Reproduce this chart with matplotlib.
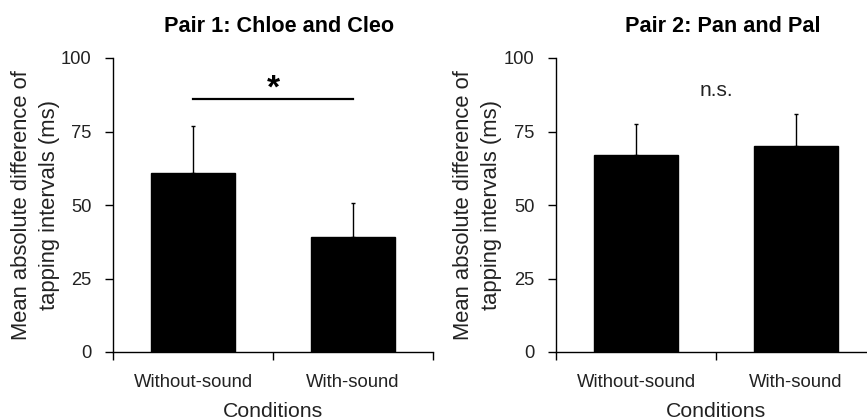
import matplotlib
matplotlib.use("Agg")
import matplotlib.pyplot as plt
import numpy as np

plt.rcParams['font.family'] = ['Liberation Sans', 'DejaVu Sans']

conditions = ["Without-sound", "With-sound"]
titles = ["Pair 1: Chloe and Cleo", "Pair 2: Pan and Pal"]
pair1_means = [61, 39]
pair1_err = [16, 11.6]
pair2_means = [67, 70]
pair2_err = [10.5, 11]
sig_labels = ["*", "n.s."]
yticks = [0, 25, 50, 75, 100]

fig = plt.figure(figsize=(8.67, 4.2), dpi=100)
axes = [fig.add_axes([113/867, 1-352/420, 320/867, 294/420]),
        fig.add_axes([556/867, 1-352/420, 320/867, 294/420])]

data = [(pair1_means, pair1_err), (pair2_means, pair2_err)]
for i, ax in enumerate(axes):
    means, errs = data[i]
    x = np.arange(len(conditions)) + 0.5
    ax.bar(x, means, width=0.53, color='black', edgecolor='black', zorder=2)
    ax.errorbar(x, means, yerr=[np.zeros(len(errs)), errs], fmt='none',
                ecolor='black', elinewidth=1.0, capsize=1.5, capthick=1.0, zorder=1)
    ax.set_xlim(0, 2)
    ax.set_ylim(0, 100)
    ax.set_yticks(yticks)
    ax.set_yticklabels([str(t) for t in yticks], fontsize=13.2, color='#222222')
    ax.set_xticks([0, 1, 2])
    ax.set_xticklabels(['', '', ''])
    ax.set_xticks(x, minor=True)
    ax.set_xticklabels(conditions, minor=True, fontsize=13.3, color='#222222')
    ax.tick_params(axis='x', which='major', direction='out', length=6, width=1.0)
    ax.tick_params(axis='x', which='minor', length=0, pad=16)
    ax.tick_params(axis='y', direction='out', length=6, width=1.0, pad=9.5)
    for s in ['top', 'right']:
        ax.spines[s].set_visible(False)
    for s in ['left', 'bottom']:
        ax.spines[s].set_linewidth(1.0)
        ax.spines[s].set_color('black')
    ax.set_xlabel("Conditions", fontsize=15.3, color='#222222', labelpad=8)
    ax.set_ylabel("Mean absolute difference of\ntapping intervals (ms)",
                  fontsize=15.8, color='#222222', linespacing=1.45)
    ax.set_title(titles[i], fontsize=15.6, fontweight='bold', pad=19, x=0.52)

axes[0].yaxis.set_label_coords(-0.166, 0.5)
axes[1].yaxis.set_label_coords(-0.169, 0.5)

# significance annotations
axes[0].plot([0.5, 1.5], [86, 86], color='black', lw=1.6, clip_on=False)
axes[0].text(1.0, 84.2, sig_labels[0], ha='center', va='bottom', fontsize=24, fontweight='bold')
axes[1].text(1.0, 89, sig_labels[1], ha='center', va='center', fontsize=15, color='#222222')

fig.savefig("out.png", dpi=100)
